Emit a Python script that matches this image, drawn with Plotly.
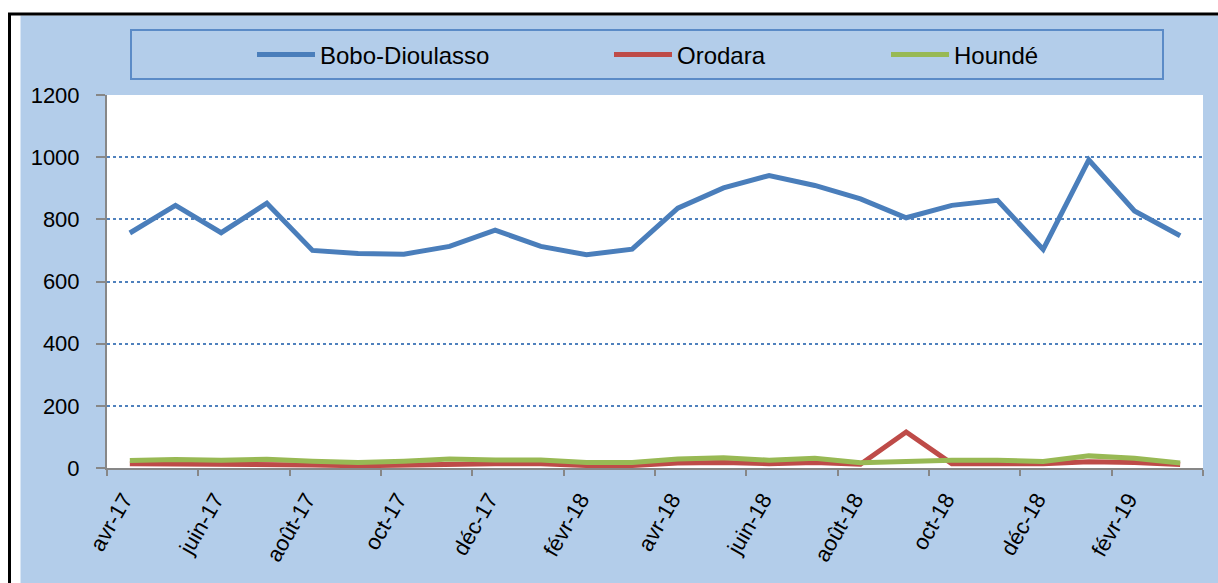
import plotly.graph_objects as go

months = ["avr-17", "mai-17", "juin-17", "juil-17", "août-17", "sept-17", "oct-17", "nov-17",
          "déc-17", "janv-18", "févr-18", "mars-18", "avr-18", "mai-18", "juin-18", "juil-18",
          "août-18", "sept-18", "oct-18", "nov-18", "déc-18", "janv-19", "févr-19", "mars-19"]

bobo = [756, 845, 757, 852, 700, 690, 688, 713, 765, 713, 686, 704,
        836, 901, 941, 909, 866, 805, 845, 861, 703, 991, 827, 747]
orodara = [14, 14, 13, 12, 10, 7, 10, 13, 14, 14, 8, 8,
           16, 18, 14, 18, 12, 116, 14, 14, 14, 20, 18, 11]
hounde = [24, 27, 25, 28, 22, 18, 22, 29, 26, 26, 18, 18,
          29, 33, 25, 31, 17, 21, 25, 25, 21, 39, 31, 16]

series = [("Bobo-Dioulasso", bobo, "#4A7EBB", "legend"),
          ("Orodara", orodara, "#BE4B48", "legend2"),
          ("Houndé", hounde, "#98B954", "legend3")]

xidx = list(range(len(months)))

fig = go.Figure()
for name, vals, color, lg in series:
    fig.add_trace(go.Scatter(x=xidx, y=vals, name=name, mode="lines",
                             line=dict(color=color, width=5), legend=lg))

W, H = 1218, 583
L, T = 107, 95
R = W - 1203
B = H - 467.7
pw, ph = W - L - R, H - T - B

def px2x(px):  # page pixel -> paper x
    return (px - L) / pw

def py2y(py):  # page pixel -> paper y
    return (H - B - py) / ph

legend_font = dict(family="Liberation Sans, Arial", size=24, color="black")
leg_common = dict(orientation="h", bgcolor="rgba(0,0,0,0)", borderwidth=0, font=legend_font,
                  xanchor="left", yanchor="middle", y=py2y(55), itemwidth=58)

shapes = [
    dict(type="rect", xref="paper", yref="paper", x0=-0.3, x1=px2x(20.5), y0=-0.5, y1=1.6,
         fillcolor="white", line=dict(width=0)),
    dict(type="rect", xref="paper", yref="paper", x0=-0.3, x1=1.1, y0=py2y(15.5), y1=1.6,
         fillcolor="white", line=dict(width=0)),
    dict(type="line", xref="paper", yref="paper", x0=px2x(9.5), x1=px2x(9.5), y0=-0.5, y1=py2y(13),
         line=dict(color="black", width=3)),
    dict(type="line", xref="paper", yref="paper", x0=px2x(8), x1=1.1, y0=py2y(14), y1=py2y(14),
         line=dict(color="black", width=3)),
    dict(type="rect", xref="paper", yref="paper", x0=px2x(131), x1=px2x(1163), y0=py2y(79), y1=py2y(30),
         fillcolor="rgba(0,0,0,0)", line=dict(color="#5B8BC7", width=2)),
]

fig.update_layout(
    width=W, height=H,
    margin=dict(l=L, r=R, t=T, b=B, autoexpand=False),
    paper_bgcolor="#B3CDEA",
    plot_bgcolor="white",
    showlegend=True,
    legend=dict(leg_common, x=px2x(252)),
    legend2=dict(leg_common, x=px2x(609)),
    legend3=dict(leg_common, x=px2x(886)),
    shapes=shapes,
    xaxis=dict(
        range=[-0.5, len(months) - 0.5],
        tickmode="array", tickvals=xidx[::2], ticktext=months[::2],
        tickangle=-60, ticks="outside", ticklen=6, tickcolor="rgba(0,0,0,0)",
        tickfont=dict(family="Liberation Sans, Arial", size=22, color="black"),
        showgrid=False, zeroline=False,
        showline=True, linecolor="#878787", linewidth=2,
        minor=dict(tickmode="array", tickvals=[i - 0.5 for i in range(0, len(months) + 1, 2)],
                   ticks="outside", ticklen=6, tickcolor="#878787", tickwidth=2, showgrid=False),
        ticklabelstandoff=2, ticklabelshift=-6,
    ),
    yaxis=dict(
        range=[0, 1200], tickmode="array", tickvals=[0, 200, 400, 600, 800, 1000, 1200],
        ticks="outside", ticklen=9, tickcolor="#878787", tickwidth=2,
        tickfont=dict(family="Liberation Sans, Arial", size=22, color="black"),
        showgrid=True, gridcolor="#4F81BD", griddash="dot", gridwidth=1.5,
        zeroline=False, showline=True, linecolor="#878787", linewidth=2,
        ticklabelstandoff=12,
    ),
)

fig.write_html("out.html", config={"displayModeBar": False},
               post_script="document.body.style.margin='0';document.body.style.overflow='hidden';")
